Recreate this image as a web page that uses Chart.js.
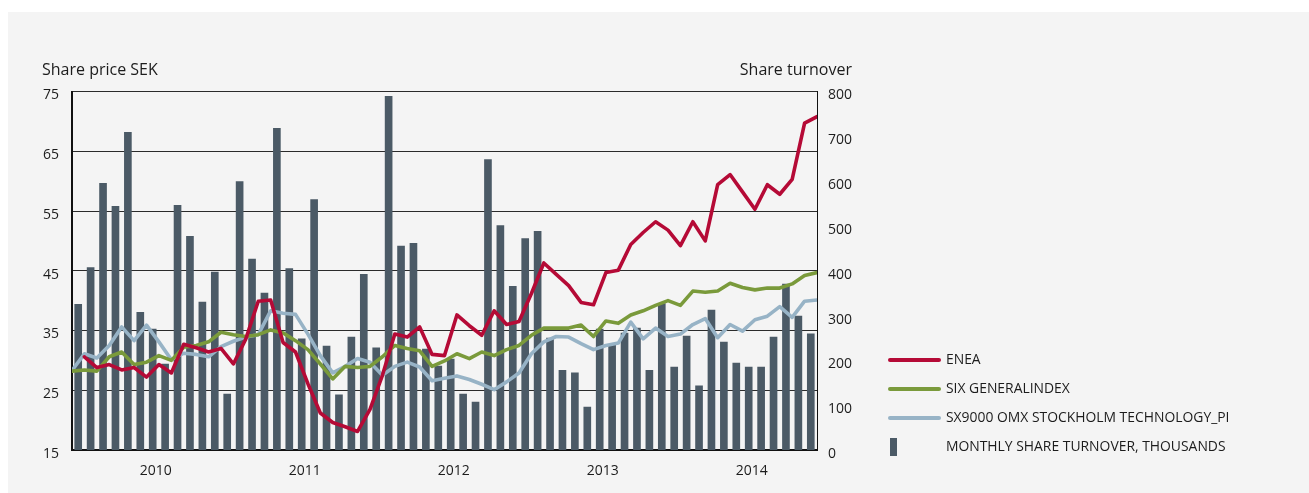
<!DOCTYPE html>
<html>
<head>
<meta charset="utf-8">
<script src="https://cdn.jsdelivr.net/npm/chart.js@4.4.1/dist/chart.umd.min.js"></script>
<style>
  html, body { margin: 0; padding: 0; background: #ffffff; }
  #panel { position: absolute; left: 8px; top: 12px; right: 0; bottom: 0; background: #f4f4f4; }
  #wrap { position: absolute; left: 0; top: 0; width: 1309px; height: 493px; }
</style>
</head>
<body>
<div id="panel"></div>
<div id="wrap"><canvas id="c" width="1309" height="493"></canvas></div>
<script>
// ---- Data (Jul 2009 – Jun 2014) ----
const yearLabels = ['2010', '2011', '2012', '2013', '2014'];
const firstJanIndex = 6; // Jan 2010 is the 7th month of the series

// Monthly share turnover, thousands (one bar per month, 60 months)
const turnover = [
  325, 407, 595, 544, 709, 307, 270, 192, 546, 477,
  330, 397, 125, 599, 426, 350, 718, 405, 248, 559,
  232, 123, 252, 392, 228, 789, 455, 461, 225, 187,
  203, 125, 107, 648, 501, 365, 472, 488, 250, 178,
  172,  96, 270, 234, 261, 272, 178, 327, 185, 254,
  143, 312, 241, 194, 185, 185, 252, 370, 299, 259
];

// Month-end share price / index values (61 points)
const enea = [
  null, 30.6, 28.8, 29.3, 28.4, 28.8, 27.2, 29.3, 27.9, 32.7,
  32.1, 31.4, 32.0, 29.4, 33.6, 39.9, 40.1, 33.0, 31.4, 26.1,
  21.2, 19.6, 18.9, 18.1, 21.8, 27.5, 34.4, 33.9, 35.6, 31.0,
  30.8, 37.6, 35.8, 34.2, 38.3, 36.0, 36.5, 41.2, 46.3, 44.4,
  42.5, 39.7, 39.3, 44.7, 45.1, 49.4, 51.4, 53.2, 51.8, 49.2,
  53.2, 50.0, 59.4, 61.1, 58.2, 55.3, 59.4, 57.8, 60.3, 69.7,
  70.8
];
const sixGeneral = [
  28.2, 28.4, 28.2, 30.6, 31.4, 29.3, 29.7, 30.8, 30.0, 32.2,
  32.5, 33.1, 34.7, 34.3, 34.0, 34.3, 35.1, 34.6, 33.3, 31.8,
  29.4, 26.9, 29.0, 28.8, 29.0, 30.6, 32.5, 32.0, 31.6, 29.0,
  29.9, 31.1, 30.3, 31.4, 30.8, 31.8, 32.5, 34.2, 35.4, 35.4,
  35.4, 35.9, 34.0, 36.6, 36.2, 37.6, 38.3, 39.2, 40.0, 39.2,
  41.6, 41.4, 41.6, 42.9, 42.2, 41.8, 42.1, 42.1, 42.8, 44.2,
  44.7
];
const sx9000 = [
  28.3, 31.1, 30.4, 32.5, 35.6, 33.3, 35.9, 33.1, 30.1, 31.2,
  31.0, 30.6, 32.3, 33.2, 33.9, 34.3, 38.3, 37.9, 37.7, 34.4,
  30.8, 27.9, 29.0, 30.3, 29.7, 27.5, 29.0, 29.7, 28.9, 26.6,
  27.0, 27.4, 26.8, 26.0, 25.1, 26.4, 27.9, 31.1, 33.1, 34.0,
  33.9, 32.8, 31.8, 32.5, 32.9, 36.4, 33.6, 35.4, 34.0, 34.4,
  36.0, 37.0, 33.8, 36.0, 34.9, 36.8, 37.4, 39.0, 37.2, 39.9,
  40.1
];

const seriesNames = ['ENEA', 'SIX GENERALINDEX', 'SX9000 OMX STOCKHOLM TECHNOLOGY_PI', 'MONTHLY SHARE TURNOVER, THOUSANDS'];
const leftTitle = 'Share price SEK';
const rightTitle = 'Share turnover';

// ---- Styles / layout ----
const FONT = '"Open Sans", "Noto Sans", sans-serif';
const TEXT = '#1c1c1c';
const RED = '#b50a36';
const GREEN = '#7a9a3b';
const BLUE = '#97b3c6';
const BAR = '#4b5a66';
const LEGEND_SIZE = 13.9;
const LEGEND_ROW = 29;                         // vertical distance between legend rows
const LEGEND_PAD = LEGEND_ROW - LEGEND_SIZE;   // Chart.js row step = itemHeight + padding
const LEGEND_BOX = 49;
const LEGEND_ITEMS_X = 890;                    // where legend samples start
const LEGEND_LEFT = LEGEND_ITEMS_X - LEGEND_PAD;
const LEGEND_FIRST_Y = 360;                    // centre of first legend row
const PLOT_TOP = 91.5;
const PLOT_RIGHT = 817;
const CANVAS_W = 1309;

// natural legend width (as Chart.js computes it) so the legend sits where wanted
const mctx = document.createElement('canvas').getContext('2d');
mctx.font = LEGEND_SIZE + 'px ' + FONT;
const maxText = Math.max(...seriesNames.map(s => mctx.measureText(s).width));
const legendWidth = LEGEND_PAD + LEGEND_BOX + LEGEND_SIZE / 2 + maxText + 10;
const padRight = Math.max(0, CANVAS_W - LEGEND_LEFT - legendWidth);
// empty legend title used only as a spacer so rows start at LEGEND_FIRST_Y
const legendSpacer = LEGEND_FIRST_Y - LEGEND_SIZE / 2 - LEGEND_PAD - PLOT_TOP - 10;

// bar legend swatch (narrow dark rectangle at the left of the legend sample box)
const barSwatch = document.createElement('canvas');
barSwatch.width = LEGEND_BOX; barSwatch.height = 18;
(function(){ const g = barSwatch.getContext('2d'); g.fillStyle = BAR; g.fillRect(0, 0, 7, 18); })();

const toMonthEnd = arr => arr.map((v, k) => ({ x: k, y: v }));
const toMonthMid = arr => arr.map((v, i) => ({ x: i + 0.5, y: v }));

const axisTitles = {
  id: 'axisTitles',
  afterDraw(chart) {
    const { ctx, chartArea } = chart;
    ctx.save();
    ctx.font = '16px ' + FONT;
    ctx.fillStyle = TEXT;
    ctx.textBaseline = 'middle';
    ctx.textAlign = 'left';
    ctx.fillText(leftTitle, chartArea.left - 30, chartArea.top - 21);
    ctx.textAlign = 'right';
    ctx.fillText(rightTitle, chartArea.right + 35, chartArea.top - 21);
    ctx.restore();
  }
};

new Chart(document.getElementById('c'), {
  type: 'line',
  data: {
    datasets: [
      { type: 'line', label: seriesNames[0], data: toMonthEnd(enea), borderColor: RED, backgroundColor: RED,
        borderWidth: 3.6, pointRadius: 0, tension: 0, borderJoinStyle: 'round', borderCapStyle: 'round',
        yAxisID: 'y', order: 1 },
      { type: 'line', label: seriesNames[1], data: toMonthEnd(sixGeneral), borderColor: GREEN, backgroundColor: GREEN,
        borderWidth: 3.6, pointRadius: 0, tension: 0, borderJoinStyle: 'round', borderCapStyle: 'round',
        yAxisID: 'y', order: 2 },
      { type: 'line', label: seriesNames[2], data: toMonthEnd(sx9000), borderColor: BLUE, backgroundColor: BLUE,
        borderWidth: 3.6, pointRadius: 0, tension: 0, borderJoinStyle: 'round', borderCapStyle: 'round',
        yAxisID: 'y', order: 3 },
      { type: 'bar', label: seriesNames[3], data: toMonthMid(turnover), backgroundColor: BAR,
        barThickness: 7, yAxisID: 'y1', order: 10 }
    ]
  },
  options: {
    responsive: false,
    animation: false,
    layout: { padding: { left: 30, top: PLOT_TOP, right: padRight, bottom: 3 } },
    plugins: {
      tooltip: { enabled: false },
      legend: {
        position: 'right',
        align: 'start',
        maxWidth: legendWidth + 6,
        title: { display: true, text: '', font: { size: 10, lineHeight: 1 }, padding: { top: legendSpacer, bottom: 0 } },
        labels: {
          usePointStyle: true,
          pointStyleWidth: LEGEND_BOX,
          padding: LEGEND_PAD,
          color: TEXT,
          font: { family: FONT, size: LEGEND_SIZE },
          generateLabels(chart) {
            const ds = chart.data.datasets;
            return ds.map((d, i) => i < 3 ? {
              text: d.label, datasetIndex: i, hidden: false,
              pointStyle: 'line', strokeStyle: d.borderColor, fillStyle: d.borderColor,
              lineWidth: 4, lineCap: 'round', fontColor: TEXT
            } : {
              text: d.label, datasetIndex: i, hidden: false,
              pointStyle: barSwatch, fillStyle: BAR, strokeStyle: BAR, lineWidth: 0, fontColor: TEXT
            });
          }
        }
      }
    },
    scales: {
      x: {
        type: 'linear',
        min: 0, max: 60,
        offset: false,
        grid: { display: false, drawTicks: false },
        border: { display: true, width: 2, color: '#111' },
        afterBuildTicks(scale) {
          scale.ticks = yearLabels.map((_, i) => ({ value: firstJanIndex + 12 * i + 0.75 }));
        },
        afterFit(scale) { scale.height = 40; },
        ticks: {
          autoSkip: false, maxRotation: 0, padding: 13,
          color: TEXT, font: { family: FONT, size: 14 },
          callback: (v, i) => yearLabels[i]
        }
      },
      y: {
        position: 'left',
        min: 15, max: 75,
        afterFit(scale) { scale.width = 42; },
        grid: { color: '#2b2b2b', lineWidth: 1, drawTicks: false },
        border: { display: true, width: 2, color: '#111' },
        ticks: { stepSize: 10, padding: 13, labelOffset: 4, color: TEXT, font: { family: FONT, size: 14 } }
      },
      y1: {
        position: 'right',
        min: 0, max: 800,
        afterFit(scale) { scale.width = LEGEND_LEFT - PLOT_RIGHT; },
        grid: { display: false, drawTicks: false },
        border: { display: true, width: 1, color: '#111' },
        ticks: { stepSize: 100, padding: 11, labelOffset: 4, color: TEXT, font: { family: FONT, size: 14 } }
      }
    }
  },
  plugins: [axisTitles]
});
</script>
</body>
</html>
